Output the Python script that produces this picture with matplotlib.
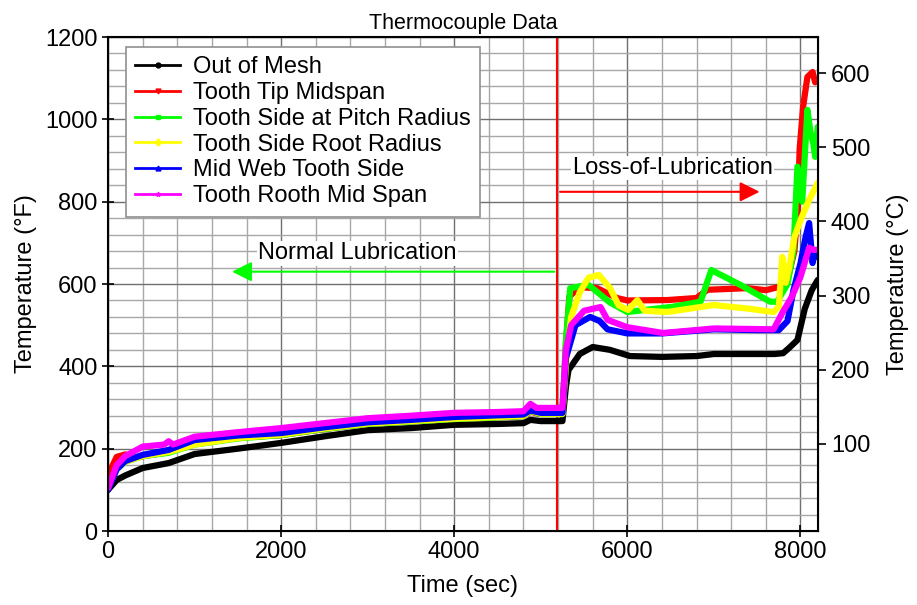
import matplotlib.pyplot as plt
import numpy as np
from matplotlib.lines import Line2D
from matplotlib.ticker import MultipleLocator

plt.rcParams['font.family'] = ['Liberation Sans', 'DejaVu Sans']

# time (sec) and temperature (F)
t_black = [0, 100, 200, 400, 700, 1000, 1500, 2000, 2500, 3000, 3500, 4000, 4500, 4800, 4880, 5000,
           5250, 5290, 5320, 5450, 5600, 5800, 6030, 6400, 6800, 7000, 7500, 7700, 7800, 7870, 7965, 8050, 8130, 8200]
y_black = [100, 124, 135, 153, 165, 187, 200, 214, 230, 245, 250, 258, 260, 262, 270, 267,
           267, 350, 391, 430, 447, 440, 425, 423, 425, 430, 430, 430, 432, 445, 464, 540, 585, 610]

t_red = [0, 100, 200, 300, 700, 1000, 1500, 2000, 2500, 3000, 3500, 4000, 4500, 4800, 4880, 5000,
         5250, 5290, 5330, 5450, 5650, 5880, 6000, 6460, 6800, 6925, 7385, 7600, 7750, 7850, 7930,
         7975, 7990, 8030, 8080, 8140, 8170, 8200]
y_red = [136, 180, 186, 178, 192, 212, 227, 233, 248, 260, 266, 272, 276, 279, 290, 284,
         284, 450, 570, 592, 590, 566, 560, 561, 566, 586, 590, 585, 593, 610, 680,
         804, 926, 1030, 1103, 1115, 1090, 1096]

t_green = [0, 100, 200, 400, 700, 1000, 1500, 2000, 2500, 3000, 3500, 4000, 4500, 4800, 4880, 5000,
           5250, 5290, 5340, 5550, 5800, 6000, 6530, 6845, 6970, 7305, 7650, 7730, 7850, 7920,
           7965, 8020, 8080, 8115, 8150, 8170, 8200]
y_green = [105, 150, 168, 182, 190, 210, 225, 233, 248, 260, 266, 272, 276, 279, 292, 284,
           284, 460, 590, 598, 555, 532, 545, 557, 634, 598, 557, 557, 600, 683,
           885, 800, 1023, 970, 940, 909, 982]

t_yellow = [0, 100, 200, 400, 700, 1000, 1500, 2000, 2500, 3000, 3500, 4000, 4500, 4800, 4880, 5000,
            5250, 5290, 5350, 5450, 5550, 5670, 5800, 5900, 6010, 6115, 6200, 6460, 7000, 7400,
            7690, 7750, 7790, 7830, 7870, 7930, 8000, 8100, 8200]
y_yellow = [105, 150, 168, 182, 192, 210, 226, 234, 249, 261, 267, 273, 277, 280, 292, 285,
            285, 400, 520, 580, 615, 622, 590, 548, 537, 561, 535, 532, 549, 540,
            532, 545, 666, 603, 640, 714, 755, 804, 846]

t_blue = [0, 100, 200, 400, 700, 1000, 1500, 2000, 2500, 3000, 3500, 4000, 4500, 4800, 4880, 5000,
          5250, 5290, 5400, 5570, 5680, 5770, 6000, 6400, 7000, 7500, 7750, 7850, 7920, 8000,
          8060, 8100, 8140, 8170, 8200]
y_blue = [100, 150, 170, 185, 197, 221, 232, 238, 252, 264, 270, 277, 281, 283, 293, 287,
          287, 420, 500, 520, 510, 490, 480, 480, 490, 488, 488, 510, 586, 650,
          715, 748, 651, 680, 666]

t_magenta = [0, 100, 200, 400, 650, 700, 750, 1000, 1500, 2000, 2500, 3000, 3500, 4000, 4500, 4800,
             4880, 4950, 5250, 5290, 5350, 5500, 5690, 5770, 6000, 6415, 7000, 7690, 7790, 7900,
             8000, 8100, 8150, 8200]
y_magenta = [104, 160, 182, 205, 210, 218, 210, 229, 240, 250, 262, 274, 280, 287, 289, 291,
             309, 299, 299, 440, 500, 535, 544, 513, 495, 481, 492, 490, 530, 569,
             617, 688, 683, 683]

series = [
    ("Out of Mesh", t_black, y_black, "black", "o"),
    ("Tooth Tip Midspan", t_red, y_red, "red", "v"),
    ("Tooth Side at Pitch Radius", t_green, y_green, "lime", "s"),
    ("Tooth Side Root Radius", t_yellow, y_yellow, "yellow", "D"),
    ("Mid Web Tooth Side", t_blue, y_blue, "blue", "^"),
    ("Tooth Rooth Mid Span", t_magenta, y_magenta, "magenta", "*"),
]

fs = 17

fig = plt.figure(figsize=(9.17, 6.05), dpi=100)
ax = fig.add_axes([0.1178, 0.1223, 0.774, 0.8165])

handles = []
for name, t, y, c, m in series:
    ax.plot(t, y, color=c, lw=4.5, solid_capstyle='round', solid_joinstyle='round')
    handles.append(Line2D([], [], color=c, lw=2, marker=m, markersize=3.5, label=name))

ax.set_xlim(0, 8200)
ax.set_ylim(0, 1200)
ax.xaxis.set_major_locator(MultipleLocator(2000))
ax.xaxis.set_minor_locator(MultipleLocator(400))
ax.yaxis.set_major_locator(MultipleLocator(200))
ax.yaxis.set_minor_locator(MultipleLocator(40))
ax.grid(which='major', color='#707070', lw=1.0)
ax.grid(which='minor', color='#a8a8a8', lw=1.0)
ax.set_axisbelow(True)
ax.tick_params(which='major', direction='inout', length=8, width=1.2, labelsize=fs)
ax.tick_params(which='minor', length=0)
for s in ax.spines.values():
    s.set_linewidth(1.5)

ax.set_xlabel("Time (sec)", fontsize=fs, labelpad=8)
ax.set_ylabel("Temperature (°F)", fontsize=fs, labelpad=6)
ax.set_title("Thermocouple Data", fontsize=15.5, pad=6)

# right axis in Celsius
ax2 = ax.twinx()
ax2.set_ylim((0 - 32) * 5 / 9, (1200 - 32) * 5 / 9)
ax2.set_yticks([100, 200, 300, 400, 500, 600])
ax2.tick_params(direction='out', length=6, width=1.2, labelsize=fs)
ax2.set_ylabel("Temperature (°C)", fontsize=fs, labelpad=12)

# transition line and annotations
ax.axvline(5190, color='red', lw=1.5, zorder=1.5)
ax.annotate("", xy=(1400, 630), xytext=(5190, 630),
            arrowprops=dict(arrowstyle='-|>', color='lime', lw=1.5, mutation_scale=30))
ax.text(2880, 675, "Normal Lubrication", fontsize=fs, ha='center', va='center',
        bbox=dict(facecolor='white', edgecolor='none', pad=1))
ax.annotate("", xy=(7560, 824), xytext=(5190, 824),
            arrowprops=dict(arrowstyle='-|>', color='red', lw=1.5, mutation_scale=30))
ax.text(6520, 882, "Loss-of-Lubrication", fontsize=fs, ha='center', va='center',
        bbox=dict(facecolor='white', edgecolor='none', pad=1))

leg = ax.legend(handles=handles, loc='upper left', bbox_to_anchor=(0.025, 0.98),
                fontsize=fs, frameon=True, fancybox=False, framealpha=1,
                edgecolor='#909090', handlelength=1.9, labelspacing=0.16,
                borderpad=0.4, handletextpad=0.55, borderaxespad=0)
leg.get_frame().set_linewidth(1.2)

fig.savefig("out.png", dpi=100)
